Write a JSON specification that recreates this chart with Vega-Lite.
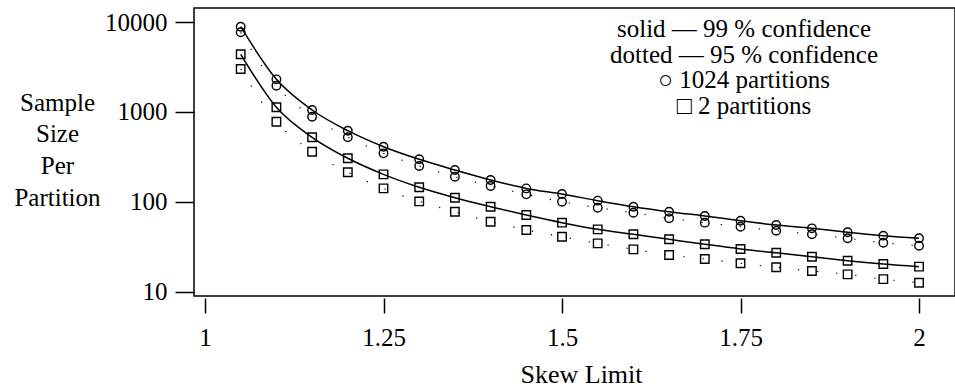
{
  "$schema": "https://vega.github.io/schema/vega-lite/v6.json",
  "width": 761,
  "height": 288,
  "autosize": {"type": "none"},
  "padding": {"left": 194, "top": 8, "right": 0, "bottom": 92},
  "background": "white",
  "view": {"stroke": "black", "strokeWidth": 1.5},
  "config": {
    "font": "Liberation Serif",
    "axis": {"grid": false, "labelFont": "Liberation Serif", "titleFont": "Liberation Serif", "labelColor": "black", "titleColor": "black", "tickColor": "black"}
  },
  "datasets": {
    "series": [
      {"x": 1.05, "part": "1024", "conf": 99, "v": 8866}, {"x": 1.05, "part": "1024", "conf": 95, "v": 7683}, {"x": 1.05, "part": "2", "conf": 99, "v": 4372}, {"x": 1.05, "part": "2", "conf": 95, "v": 3001},
      {"x": 1.1, "part": "1024", "conf": 99, "v": 2304}, {"x": 1.1, "part": "1024", "conf": 95, "v": 1956}, {"x": 1.1, "part": "2", "conf": 99, "v": 1125}, {"x": 1.1, "part": "2", "conf": 95, "v": 778},
      {"x": 1.15, "part": "1024", "conf": 99, "v": 1050}, {"x": 1.15, "part": "1024", "conf": 95, "v": 884}, {"x": 1.15, "part": "2", "conf": 99, "v": 522}, {"x": 1.15, "part": "2", "conf": 95, "v": 361},
      {"x": 1.2, "part": "1024", "conf": 99, "v": 618}, {"x": 1.2, "part": "1024", "conf": 95, "v": 522}, {"x": 1.2, "part": "2", "conf": 99, "v": 305}, {"x": 1.2, "part": "2", "conf": 95, "v": 213},
      {"x": 1.25, "part": "1024", "conf": 99, "v": 410}, {"x": 1.25, "part": "1024", "conf": 95, "v": 346}, {"x": 1.25, "part": "2", "conf": 99, "v": 202}, {"x": 1.25, "part": "2", "conf": 95, "v": 141},
      {"x": 1.3, "part": "1024", "conf": 99, "v": 297}, {"x": 1.3, "part": "1024", "conf": 95, "v": 250}, {"x": 1.3, "part": "2", "conf": 99, "v": 145}, {"x": 1.3, "part": "2", "conf": 95, "v": 101},
      {"x": 1.35, "part": "1024", "conf": 99, "v": 226}, {"x": 1.35, "part": "1024", "conf": 95, "v": 190}, {"x": 1.35, "part": "2", "conf": 99, "v": 111}, {"x": 1.35, "part": "2", "conf": 95, "v": 77.6},
      {"x": 1.4, "part": "1024", "conf": 99, "v": 175}, {"x": 1.4, "part": "1024", "conf": 95, "v": 150}, {"x": 1.4, "part": "2", "conf": 99, "v": 88.2}, {"x": 1.4, "part": "2", "conf": 95, "v": 60},
      {"x": 1.45, "part": "1024", "conf": 99, "v": 141}, {"x": 1.45, "part": "1024", "conf": 95, "v": 121}, {"x": 1.45, "part": "2", "conf": 99, "v": 71.3}, {"x": 1.45, "part": "2", "conf": 95, "v": 48.6},
      {"x": 1.5, "part": "1024", "conf": 99, "v": 122}, {"x": 1.5, "part": "1024", "conf": 95, "v": 100}, {"x": 1.5, "part": "2", "conf": 99, "v": 58.6}, {"x": 1.5, "part": "2", "conf": 95, "v": 40.9},
      {"x": 1.55, "part": "1024", "conf": 99, "v": 103}, {"x": 1.55, "part": "1024", "conf": 95, "v": 86}, {"x": 1.55, "part": "2", "conf": 99, "v": 49.4}, {"x": 1.55, "part": "2", "conf": 95, "v": 34.5},
      {"x": 1.6, "part": "1024", "conf": 99, "v": 88.2}, {"x": 1.6, "part": "1024", "conf": 95, "v": 75.6}, {"x": 1.6, "part": "2", "conf": 99, "v": 43.5}, {"x": 1.6, "part": "2", "conf": 95, "v": 29.6},
      {"x": 1.65, "part": "1024", "conf": 99, "v": 77.6}, {"x": 1.65, "part": "1024", "conf": 95, "v": 65.5}, {"x": 1.65, "part": "2", "conf": 99, "v": 38.3}, {"x": 1.65, "part": "2", "conf": 95, "v": 25.6},
      {"x": 1.7, "part": "1024", "conf": 99, "v": 69.5}, {"x": 1.7, "part": "1024", "conf": 95, "v": 58.6}, {"x": 1.7, "part": "2", "conf": 99, "v": 33.7}, {"x": 1.7, "part": "2", "conf": 95, "v": 23.1},
      {"x": 1.75, "part": "1024", "conf": 99, "v": 61.6}, {"x": 1.75, "part": "1024", "conf": 95, "v": 52.8}, {"x": 1.75, "part": "2", "conf": 99, "v": 29.9}, {"x": 1.75, "part": "2", "conf": 95, "v": 20.7},
      {"x": 1.8, "part": "1024", "conf": 99, "v": 55.2}, {"x": 1.8, "part": "1024", "conf": 95, "v": 47.7}, {"x": 1.8, "part": "2", "conf": 99, "v": 27.1}, {"x": 1.8, "part": "2", "conf": 95, "v": 18.7},
      {"x": 1.85, "part": "1024", "conf": 99, "v": 50.7}, {"x": 1.85, "part": "1024", "conf": 95, "v": 43.5}, {"x": 1.85, "part": "2", "conf": 99, "v": 24.5}, {"x": 1.85, "part": "2", "conf": 95, "v": 17.0},
      {"x": 1.9, "part": "1024", "conf": 99, "v": 45.8}, {"x": 1.9, "part": "1024", "conf": 95, "v": 39.3}, {"x": 1.9, "part": "2", "conf": 99, "v": 22.1}, {"x": 1.9, "part": "2", "conf": 95, "v": 15.6},
      {"x": 1.95, "part": "1024", "conf": 99, "v": 42.0}, {"x": 1.95, "part": "1024", "conf": 95, "v": 35.1}, {"x": 1.95, "part": "2", "conf": 99, "v": 20.3}, {"x": 1.95, "part": "2", "conf": 95, "v": 13.8},
      {"x": 2.0, "part": "1024", "conf": 99, "v": 39.3}, {"x": 2.0, "part": "1024", "conf": 95, "v": 32.5}, {"x": 2.0, "part": "2", "conf": 99, "v": 19.0}, {"x": 2.0, "part": "2", "conf": 95, "v": 12.6}
    ]
  },
  "layer": [
    {
      "data": {"name": "series"},
      "transform": [{"filter": "datum.conf == 99"}],
      "mark": {"type": "line", "color": "black", "strokeWidth": 1.5, "interpolate": "monotone"},
      "encoding": {
        "x": {
          "field": "x", "type": "quantitative",
          "scale": {"domain": [0.98459, 2.0504], "nice": false, "zero": false},
          "axis": {
            "values": [1, 1.25, 1.5, 1.75, 2],
            "labelExpr": "'' + datum.value",
            "domain": false,
            "offset": 2,
            "tickSize": 15,
            "tickWidth": 1.5,
            "labelFontSize": 25,
            "labelPadding": 12,
            "title": "Skew Limit",
            "titleFontSize": 26,
            "titleFontWeight": "normal",
            "titleAnchor": "start",
            "titleAlign": "center",
            "titleBaseline": "alphabetic",
            "titleX": 387,
            "titleY": 84
          }
        },
        "y": {
          "field": "v", "type": "quantitative",
          "scale": {"type": "log", "domain": [8.96, 14315], "nice": false, "zero": false},
          "axis": {
            "values": [10, 100, 1000, 10000],
            "format": "d",
            "domain": false,
            "tickSize": 19,
            "tickWidth": 1.5,
            "labelFontSize": 25,
            "labelPadding": 8,
            "title": ["Sample", "Size", "Per", "Partition"],
            "titleAngle": 0,
            "titleFontSize": 25,
            "titleFontWeight": "normal",
            "titleAlign": "center",
            "titleBaseline": "middle",
            "titleLineHeight": 31.8,
            "titleX": -137,
            "titleY": 94
          }
        },
        "detail": {"field": "part"}
      }
    },
    {
      "data": {"name": "series"},
      "transform": [{"filter": "datum.conf == 95"}],
      "mark": {"type": "line", "color": "black", "strokeWidth": 1.2, "strokeDash": [1.2, 18], "interpolate": "monotone"},
      "encoding": {
        "x": {"field": "x", "type": "quantitative"},
        "y": {"field": "v", "type": "quantitative"},
        "detail": {"field": "part"}
      }
    },
    {
      "data": {"name": "series"},
      "mark": {"type": "point", "filled": false, "color": "black", "strokeWidth": 1.4, "size": 72, "opacity": 1},
      "encoding": {
        "x": {"field": "x", "type": "quantitative"},
        "y": {"field": "v", "type": "quantitative"},
        "shape": {"field": "part", "type": "nominal", "scale": {"domain": ["1024", "2"], "range": ["circle", "square"]}, "legend": null}
      }
    },
    {
      "data": {"values": [{}]},
      "mark": {"type": "text", "text": ["solid — 99 % confidence", "dotted — 95 % confidence", "○ 1024 partitions", "□ 2 partitions"], "align": "center", "baseline": "alphabetic", "lineHeight": 25.5, "fontSize": 25, "font": "Liberation Serif", "color": "black"},
      "encoding": {
        "x": {"datum": 1.7549, "type": "quantitative"},
        "y": {"datum": 6810, "type": "quantitative"}
      }
    }
  ]
}
